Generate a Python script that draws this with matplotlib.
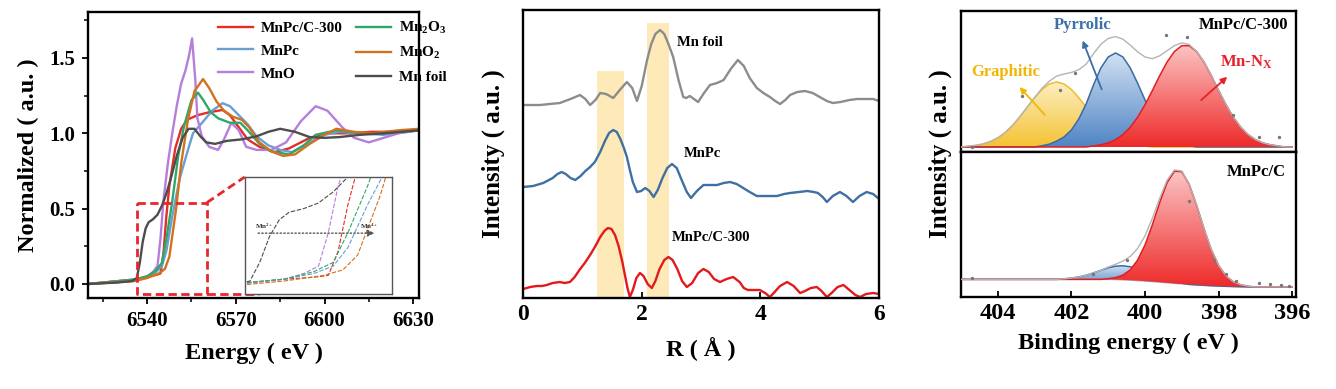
import matplotlib
matplotlib.use("Agg")
import matplotlib.pyplot as plt
import numpy as np
from matplotlib.colors import LinearSegmentedColormap
from matplotlib.patches import PathPatch

plt.rcParams["font.family"] = "Liberation Serif"
plt.rcParams["font.weight"] = "bold"
plt.rcParams["mathtext.fontset"] = "custom"
plt.rcParams["mathtext.rm"] = "Liberation Serif:bold"
plt.rcParams["mathtext.it"] = "Liberation Serif:bold"
plt.rcParams["mathtext.bf"] = "Liberation Serif:bold"
plt.rcParams["axes.linewidth"] = 1.7

# ---------------- XANES (left) ----------------
foil_e = [6520, 6530, 6535, 6536.5, 6537.5, 6538.5, 6539.5, 6540.5, 6542, 6543.5, 6545, 6546.5,
          6548, 6550, 6552, 6554, 6556, 6558, 6560, 6563, 6567, 6572, 6577, 6581, 6585, 6590,
          6595, 6600, 6605, 6612, 6620, 6632]
foil_mu = [0.0, 0.01, 0.02, 0.04, 0.14, 0.28, 0.37, 0.41, 0.43, 0.46, 0.52, 0.60,
           0.70, 0.85, 0.97, 1.03, 1.03, 0.98, 0.94, 0.93, 0.95, 0.96, 0.98, 1.01, 1.03, 1.01,
           0.975, 0.97, 0.975, 0.99, 1.0, 1.02]

mno_e = [6520, 6535, 6540, 6542, 6543.5, 6544.5, 6545.5, 6547, 6548.5, 6550, 6551.5, 6553,
         6554.2, 6555.2, 6556.3, 6557, 6558.5, 6561, 6564, 6566, 6568.5, 6571, 6573.5, 6577,
         6582, 6587, 6592, 6597, 6601, 6606, 6610, 6615, 6620, 6625, 6632]
mno_mu = [0.0, 0.02, 0.05, 0.08, 0.12, 0.30, 0.55, 0.80, 1.00, 1.18, 1.33, 1.42,
          1.52, 1.63, 1.35, 1.10, 0.98, 0.91, 0.89, 0.96, 1.07, 1.02, 0.91, 0.89,
          0.89, 0.94, 1.08, 1.18, 1.15, 1.04, 0.97, 0.94, 0.97, 1.0, 1.02]

mno2_e = [6520, 6536, 6540, 6544, 6546, 6547.5, 6548.5, 6549.8, 6551.5, 6553.8, 6556, 6558.9,
          6561, 6563.5, 6566, 6569, 6572, 6574.5, 6578, 6582, 6586, 6590, 6595, 6600, 6604,
          6610, 6616, 6625, 6632]
mno2_mu = [0.0, 0.02, 0.04, 0.07, 0.10, 0.18, 0.32, 0.50, 0.80, 1.09, 1.28, 1.36,
           1.30, 1.21, 1.15, 1.11, 1.09, 1.04, 0.94, 0.88, 0.85, 0.86, 0.93, 0.99, 1.03,
           1.01, 1.0, 1.02, 1.03]

mn2o3_e = [6520, 6536, 6540, 6543, 6545, 6546.5, 6548.5, 6550.5, 6552.5, 6555, 6557.2, 6559,
           6561.5, 6564, 6568, 6571.5, 6574, 6578, 6582, 6588, 6593, 6597, 6604, 6612, 6620, 6632]
mn2o3_mu = [0.0, 0.03, 0.05, 0.09, 0.14, 0.30, 0.55, 0.85, 1.05, 1.22, 1.27, 1.22,
            1.14, 1.10, 1.07, 1.07, 1.02, 0.93, 0.88, 0.86, 0.92, 0.99, 1.02, 1.0, 1.0, 1.02]

mnpc_e = [6520, 6536, 6540, 6543, 6545, 6546.5, 6548.5, 6551, 6553.5, 6555.5, 6559, 6562,
          6565.5, 6568, 6571, 6574, 6577, 6581, 6585, 6589, 6594, 6600, 6605, 6612, 6620, 6632]
mnpc_mu = [0.0, 0.03, 0.05, 0.08, 0.12, 0.22, 0.45, 0.70, 0.87, 1.00, 1.08, 1.15,
           1.20, 1.18, 1.12, 1.06, 0.98, 0.92, 0.89, 0.875, 0.93, 0.99, 1.01, 1.0, 0.99, 1.02]

c300_e = [6520, 6536, 6540, 6543, 6544.5, 6545.5, 6546.5, 6547.5, 6549.5, 6551.5, 6553.5, 6557,
          6561, 6565.5, 6568, 6571, 6574, 6578, 6583, 6588, 6595, 6601, 6608, 6616, 6624, 6632]
c300_mu = [0.0, 0.03, 0.05, 0.06, 0.07, 0.20, 0.45, 0.65, 0.90, 1.03, 1.09, 1.12,
           1.14, 1.155, 1.12, 1.04, 0.96, 0.91, 0.875, 0.90, 0.97, 1.0, 1.0, 1.01, 1.01, 1.02]

xanes = [
    ("MnPc/C-300", c300_e, c300_mu, "#e52d27"),
    ("MnPc", mnpc_e, mnpc_mu, "#6a9fd4"),
    ("MnO", mno_e, mno_mu, "#b57edc"),
    ("Mn$_2$O$_3$", mn2o3_e, mn2o3_mu, "#2ea86a"),
    ("MnO$_2$", mno2_e, mno2_mu, "#d2711e"),
    ("Mn foil", foil_e, foil_mu, "#4d4d4d"),
]

# ---------------- FT-EXAFS (middle) ----------------
foil_r = [0.0, 0.15, 0.29, 0.45, 0.62, 0.80, 0.96, 1.05, 1.13, 1.22, 1.30, 1.40, 1.52, 1.63,
          1.75, 1.84, 1.92, 2.00, 2.09, 2.16, 2.23, 2.31, 2.38, 2.45, 2.53, 2.62, 2.70, 2.75,
          2.81, 2.88, 2.95, 3.05, 3.15, 3.27, 3.38, 3.50, 3.62, 3.72, 3.82, 3.94, 4.05, 4.16,
          4.25, 4.33, 4.42, 4.50, 4.62, 4.75, 4.88, 5.00, 5.12, 5.22, 5.35, 5.50, 5.63, 5.80,
          5.90, 6.0]
foil_ft = [1.93, 1.93, 1.93, 1.94, 1.95, 1.99, 2.03, 1.99, 1.93, 1.98, 2.05, 2.04, 2.00, 2.08,
           2.16, 2.10, 1.97, 2.12, 2.38, 2.54, 2.64, 2.68, 2.64, 2.54, 2.41, 2.18, 2.01, 2.00,
           2.02, 1.99, 1.96, 2.05, 2.13, 2.15, 2.18, 2.29, 2.38, 2.32, 2.20, 2.10, 2.05, 2.01,
           1.97, 1.94, 1.98, 2.03, 2.06, 2.07, 2.05, 2.01, 1.97, 1.95, 1.96, 1.98, 1.99, 1.99,
           1.99, 1.97]

mnpc_r = [0.0, 0.17, 0.34, 0.50, 0.58, 0.65, 0.72, 0.80, 0.88, 0.97, 1.05, 1.13, 1.21, 1.30,
          1.38, 1.45, 1.52, 1.58, 1.64, 1.70, 1.75, 1.80, 1.85, 1.92, 1.99, 2.06, 2.13, 2.20,
          2.27, 2.35, 2.43, 2.51, 2.59, 2.68, 2.76, 2.83, 2.93, 3.04, 3.15, 3.27, 3.38, 3.49,
          3.60, 3.71, 3.82, 3.94, 4.10, 4.28, 4.40, 4.50, 4.65, 4.79, 4.90, 4.97, 5.05, 5.12,
          5.22, 5.34, 5.45, 5.56, 5.67, 5.79, 5.90, 6.0]
mnpc_ft = [1.11, 1.12, 1.15, 1.20, 1.24, 1.26, 1.24, 1.20, 1.18, 1.22, 1.27, 1.31, 1.36, 1.46,
           1.57, 1.65, 1.68, 1.66, 1.59, 1.50, 1.41, 1.28, 1.16, 1.06, 1.07, 1.10, 1.07, 1.01,
           1.08, 1.20, 1.30, 1.34, 1.30, 1.17, 1.06, 1.00, 1.07, 1.13, 1.13, 1.13, 1.15, 1.16,
           1.14, 1.10, 1.06, 1.02, 1.02, 1.02, 1.04, 1.05, 1.06, 1.07, 1.06, 1.05, 1.01, 0.96,
           1.02, 1.06, 1.02, 0.96, 1.02, 1.06, 1.04, 0.99]

c300_r = [0.0, 0.12, 0.23, 0.32, 0.40, 0.50, 0.62, 0.70, 0.79, 0.87, 0.95, 1.04, 1.13, 1.22,
          1.30, 1.37, 1.43, 1.49, 1.55, 1.61, 1.67, 1.72, 1.76, 1.80, 1.85, 1.91, 1.97, 2.03,
          2.10, 2.17, 2.23, 2.30, 2.38, 2.45, 2.52, 2.60, 2.68, 2.76, 2.85, 2.95, 3.04, 3.13,
          3.22, 3.32, 3.43, 3.54, 3.65, 3.72, 3.79, 3.90, 3.99, 4.08, 4.16, 4.24, 4.33, 4.45,
          4.56, 4.67, 4.75, 4.85, 4.95, 5.03, 5.12, 5.20, 5.30, 5.40, 5.50, 5.60, 5.68, 5.78,
          5.90, 6.0]
c300_ft = [0.09, 0.11, 0.12, 0.12, 0.13, 0.15, 0.16, 0.15, 0.16, 0.21, 0.28, 0.35, 0.43, 0.52,
           0.61, 0.67, 0.70, 0.69, 0.63, 0.52, 0.37, 0.22, 0.10, 0.01, 0.08, 0.20, 0.25, 0.22,
           0.14, 0.10, 0.17, 0.29, 0.38, 0.41, 0.38, 0.29, 0.17, 0.11, 0.15, 0.25, 0.29, 0.26,
           0.19, 0.16, 0.19, 0.21, 0.16, 0.10, 0.08, 0.08, 0.08, 0.05, 0.01, 0.06, 0.12, 0.16,
           0.12, 0.05, 0.07, 0.10, 0.11, 0.07, 0.01, 0.05, 0.11, 0.13, 0.08, 0.03, 0.01, 0.04,
           0.05, 0.04]

bands = [(1.25, 1.70, 0.788), (2.09, 2.46, 0.955)]

# ---------------- XPS N 1s (right) ----------------
be = [405.0, 404.8, 404.6, 404.4, 404.2, 404.0, 403.8, 403.6, 403.4, 403.2, 403.0, 402.8,
      402.6, 402.4, 402.2, 402.0, 401.8, 401.6, 401.4, 401.2, 401.0, 400.8, 400.6, 400.4,
      400.2, 400.0, 399.8, 399.6, 399.4, 399.2, 399.0, 398.8, 398.6, 398.4, 398.2, 398.0,
      397.8, 397.6, 397.4, 397.2, 397.0, 396.8, 396.6, 396.4, 396.2, 396.0]

top_graphitic = [0, 0.008, 0.016, 0.030, 0.054, 0.091, 0.144, 0.215, 0.302, 0.398, 0.493, 0.575,
                 0.630, 0.650, 0.630, 0.575, 0.493, 0.398, 0.302, 0.215, 0.144, 0.091, 0.054, 0.030,
                 0.016, 0.008, 0, 0, 0, 0, 0, 0, 0, 0, 0, 0, 0, 0, 0, 0, 0, 0, 0, 0, 0, 0]
top_pyrrolic = [0, 0, 0, 0, 0, 0, 0, 0, 0, 0, 0, 0.012, 0.028, 0.059, 0.10, 0.17, 0.28, 0.43,
                0.62, 0.79, 0.90, 0.940, 0.900, 0.790, 0.637, 0.470, 0.318, 0.198, 0.113, 0.059,
                0.028, 0.012, 0, 0, 0, 0, 0, 0, 0, 0, 0, 0, 0, 0, 0, 0]
top_mnnx = [0, 0, 0, 0, 0, 0, 0, 0, 0, 0, 0, 0, 0, 0, 0, 0, 0, 0, 0.011, 0.022, 0.041, 0.073,
            0.124, 0.198, 0.298, 0.422, 0.565, 0.714, 0.850, 0.955, 1.013, 1.013, 0.955, 0.850,
            0.714, 0.565, 0.422, 0.298, 0.198, 0.124, 0.073, 0.041, 0.022, 0.011, 0, 0]

bot_bg = [0.075] * 21 + [0.073, 0.070, 0.067, 0.063, 0.058, 0.053, 0.047, 0.041, 0.035, 0.030,
                         0.025, 0.020, 0.016, 0.012, 0.009, 0.006, 0.004, 0.002, 0, 0, 0, 0, 0,
                         0, 0]
bot_pyrrolic = [0] * 14 + [0.006, 0.013, 0.024, 0.041, 0.064, 0.090, 0.115, 0.133, 0.140, 0.133,
                           0.115, 0.090, 0.064, 0.041, 0.024, 0.013, 0.006] + [0] * 15
bot_mnnx = [0] * 20 + [0.007, 0.019, 0.047, 0.103, 0.204, 0.359, 0.565, 0.793, 0.995, 1.114,
                       1.114, 0.995, 0.793, 0.565, 0.359, 0.204, 0.103, 0.047, 0.019, 0.007] + [0] * 6

top_dots_x = [404.7, 403.35, 402.3, 401.9, 399.42, 398.85, 397.6, 396.9, 396.36]
top_dots_y = [0.0, 0.51, 0.57, 0.74, 1.12, 1.10, 0.32, 0.10, 0.10]
bot_dots_x = [404.7, 401.4, 400.5, 398.8, 398.12, 397.8, 397.52, 396.9, 396.6, 396.3, 396.1]
bot_dots_y = [0.09, 0.13, 0.27, 0.85, 0.27, 0.13, 0.06, 0.04, 0.03, 0.02, 0.01]


def grad_fill(ax, x, base, top, c_top, c_bot, edge, z):
    x = np.asarray(x)
    poly = ax.fill_between(x, base, top, facecolor="none", edgecolor="none")
    patch = PathPatch(poly.get_paths()[0], transform=ax.transData,
                      facecolor="none", edgecolor="none")
    ax.add_patch(patch)
    cmap = LinearSegmentedColormap.from_list("g", [c_bot, c_top])
    grad = np.linspace(0, 1, 256).reshape(-1, 1)
    im = ax.imshow(grad, extent=[x.max(), x.min(), min(base), max(top)], origin="lower",
                   aspect="auto", cmap=cmap, zorder=z)
    im.set_clip_path(patch)
    ax.plot(x, top, color=edge, lw=1.1, zorder=z + 0.1)


fig = plt.figure(figsize=(13.36, 3.89), dpi=100)

# ---- left panel ----
ax1 = fig.add_axes([0.0659, 0.2339, 0.2478, 0.7352])
for name, e, mu, col in xanes:
    ax1.plot(e, mu, color=col, lw=1.7, label=name)
ax1.set_xlim(6520, 6632)
ax1.set_ylim(-0.093, 1.805)
ax1.set_xticks([6540, 6570, 6600, 6630])
ax1.set_xticks([6525, 6555, 6585, 6615], minor=True)
ax1.set_yticks([0.0, 0.5, 1.0, 1.5])
ax1.set_yticks([0.25, 0.75, 1.25, 1.75], minor=True)
ax1.set_yticklabels(["0.0", "0.5", "1.0", "1.5"])
ax1.tick_params(which="major", direction="out", length=4, width=1.3, labelsize=15, pad=5)
ax1.tick_params(which="minor", direction="out", length=3, width=1.1)
ax1.set_xlabel("Energy ( eV )", fontsize=17.5, fontweight="bold")
ax1.set_ylabel("Normalized ( a.u. )", fontsize=17.5, fontweight="bold")
ax1.xaxis.set_label_coords(0.5, -0.155)
ax1.yaxis.set_label_coords(-0.148, 0.5)
ax1.legend(ncol=2, loc="upper left", bbox_to_anchor=(0.36, 1.01), frameon=False,
           fontsize=11, handlelength=2.3, columnspacing=0.9, labelspacing=0.6,
           borderaxespad=0.3, handletextpad=0.5)

# zoom box and connectors
red_dash = dict(color="#e8262b", lw=2, ls=(0, (3, 1.6)))
ax1.plot([6536.6, 6560.2, 6560.2, 6536.6, 6536.6], [0.54, 0.54, -0.066, -0.066, 0.54], **red_dash)
ax1.plot([6560.2, 6573.0], [0.54, 0.71], **red_dash)
ax1.plot([6560.2, 6578.0], [-0.066, -0.066], **red_dash)

axin = fig.add_axes([0.1834, 0.2442, 0.110, 0.3008])
for name, e, mu, col in xanes:
    axin.plot(e, mu, color=col, lw=0.8, ls=(0, (4, 1.5)))
axin.set_xlim(6536, 6551)
axin.set_ylim(-0.03, 0.6)
axin.set_xticks([])
axin.set_yticks([])
for sp in axin.spines.values():
    sp.set_color("#555555")
    sp.set_linewidth(1.0)
axin.annotate("", xy=(0.9, 0.52), xytext=(0.07, 0.52), xycoords="axes fraction",
              arrowprops=dict(arrowstyle="-|>", ls=":", color="#555555", lw=1.0))
axin.text(0.07, 0.56, "Mn$^{2+}$", transform=axin.transAxes, fontsize=5, color="#333333")
axin.text(0.78, 0.56, "Mn$^{4+}$", transform=axin.transAxes, fontsize=5, color="#333333")

# ---- middle panel ----
ax2 = fig.add_axes([0.3915, 0.2339, 0.2665, 0.7404])
for lo, hi, top in bands:
    ax2.axvspan(lo, hi, ymax=top, color="#fdeab8", lw=0, zorder=0)
ax2.plot(foil_r, foil_ft, color="#8c8c8c", lw=1.7)
ax2.plot(mnpc_r, mnpc_ft, color="#3f6fa3", lw=1.7)
ax2.plot(c300_r, c300_ft, color="#e3191c", lw=1.7)
ax2.set_xlim(0, 6)
ax2.set_ylim(0, 2.88)
ax2.set_xticks([0, 2, 4, 6])
ax2.set_yticks([])
ax2.tick_params(direction="in", length=4, width=1.3, labelsize=17, pad=4)
ax2.set_xlabel("R ( Å )", fontsize=17.5, fontweight="bold")
ax2.set_ylabel("Intensity ( a.u. )", fontsize=18, fontweight="bold")
ax2.xaxis.set_label_coords(0.5, -0.135)
ax2.yaxis.set_label_coords(-0.05, 0.5)
ax2.text(2.6, 2.55, "Mn foil", fontsize=10.5, va="center")
ax2.text(2.7, 1.45, "MnPc", fontsize=10.5, va="center")
ax2.text(2.51, 0.61, "MnPc/C-300", fontsize=10.5, va="center")

# ---- right panel ----
ax3 = fig.add_axes([0.7193, 0.6093, 0.2507, 0.3625])
ax4 = fig.add_axes([0.7193, 0.2365, 0.2507, 0.3728])

zero = [0] * len(be)
grad_fill(ax3, be, zero, top_graphitic, "#fcefc4", "#f5c232", "#f0bc2a", 2)
grad_fill(ax3, be, zero, top_pyrrolic, "#d3e2f3", "#4f84c4", "#3a6aa5", 3)
grad_fill(ax3, be, zero, top_mnnx, "#fcc4c4", "#ee2a2a", "#e02020", 4)
top_env = np.array(top_graphitic) + np.array(top_pyrrolic) + np.array(top_mnnx)
ax3.plot(be, top_env, color="#b4b4b4", lw=1.0, zorder=5)
ax3.scatter(top_dots_x, top_dots_y, s=2, color="#777777", zorder=6)

bg = np.array(bot_bg)
grad_fill(ax4, be, bg, bg + np.array(bot_pyrrolic), "#d3e2f3", "#4f84c4", "#3a6aa5", 3)
grad_fill(ax4, be, bg, bg + np.array(bot_mnnx), "#fcc4c4", "#ee2a2a", "#e02020", 4)
ax4.plot(be, bg, color="#b4b4b4", lw=1.0, zorder=2)
ax4.plot(be, bg + np.array(bot_pyrrolic) + np.array(bot_mnnx), color="#b4b4b4", lw=1.0, zorder=5)
ax4.scatter(bot_dots_x, bot_dots_y, s=2, color="#777777", zorder=6)

for ax in (ax3, ax4):
    ax.set_xlim(405, 395.9)
    ax.set_yticks([])
ax3.set_ylim(-0.05, 1.36)
ax4.set_ylim(-0.10, 1.34)
ax3.set_xticks([])
ax4.set_xticks([404, 402, 400, 398, 396])
ax4.tick_params(direction="in", length=4, width=1.3, labelsize=17.5, pad=4)
ax4.set_xlabel("Binding energy ( eV )", fontsize=17.5, fontweight="bold")
ax4.xaxis.set_label_coords(0.5, -0.25)
fig.text(940 / 1336, 0.604, "Intensity ( a.u. )", rotation=90, fontsize=18,
         fontweight="bold", ha="center", va="center")

ax3.text(0.976, 0.90, "MnPc/C-300", transform=ax3.transAxes, ha="right", va="center", fontsize=12)
ax4.text(0.97, 0.862, "MnPc/C", transform=ax4.transAxes, ha="right", va="center", fontsize=12)
ax3.text(403.78, 0.75, "Graphitic", color="#f2b705", fontsize=12, ha="center", va="center", zorder=7)
ax3.text(401.7, 1.22, "Pyrrolic", color="#3d6fa8", fontsize=12, ha="center", va="center", zorder=7)
ax3.text(397.25, 0.85, "Mn-N$_X$", color="#e8202a", fontsize=12, ha="center", va="center", zorder=7)
arrow_kw = dict(arrowstyle="-|>", lw=1.3, mutation_scale=9)
ax3.annotate("", xy=(403.46, 0.62), xytext=(402.67, 0.30),
             arrowprops=dict(color="#f2b705", **arrow_kw), zorder=7)
ax3.annotate("", xy=(401.72, 1.09), xytext=(401.15, 0.55),
             arrowprops=dict(color="#3d6fa8", **arrow_kw), zorder=7)
ax3.annotate("", xy=(397.71, 0.72), xytext=(398.53, 0.45),
             arrowprops=dict(color="#e8202a", **arrow_kw), zorder=7)

fig.savefig("out.png", dpi=100)
